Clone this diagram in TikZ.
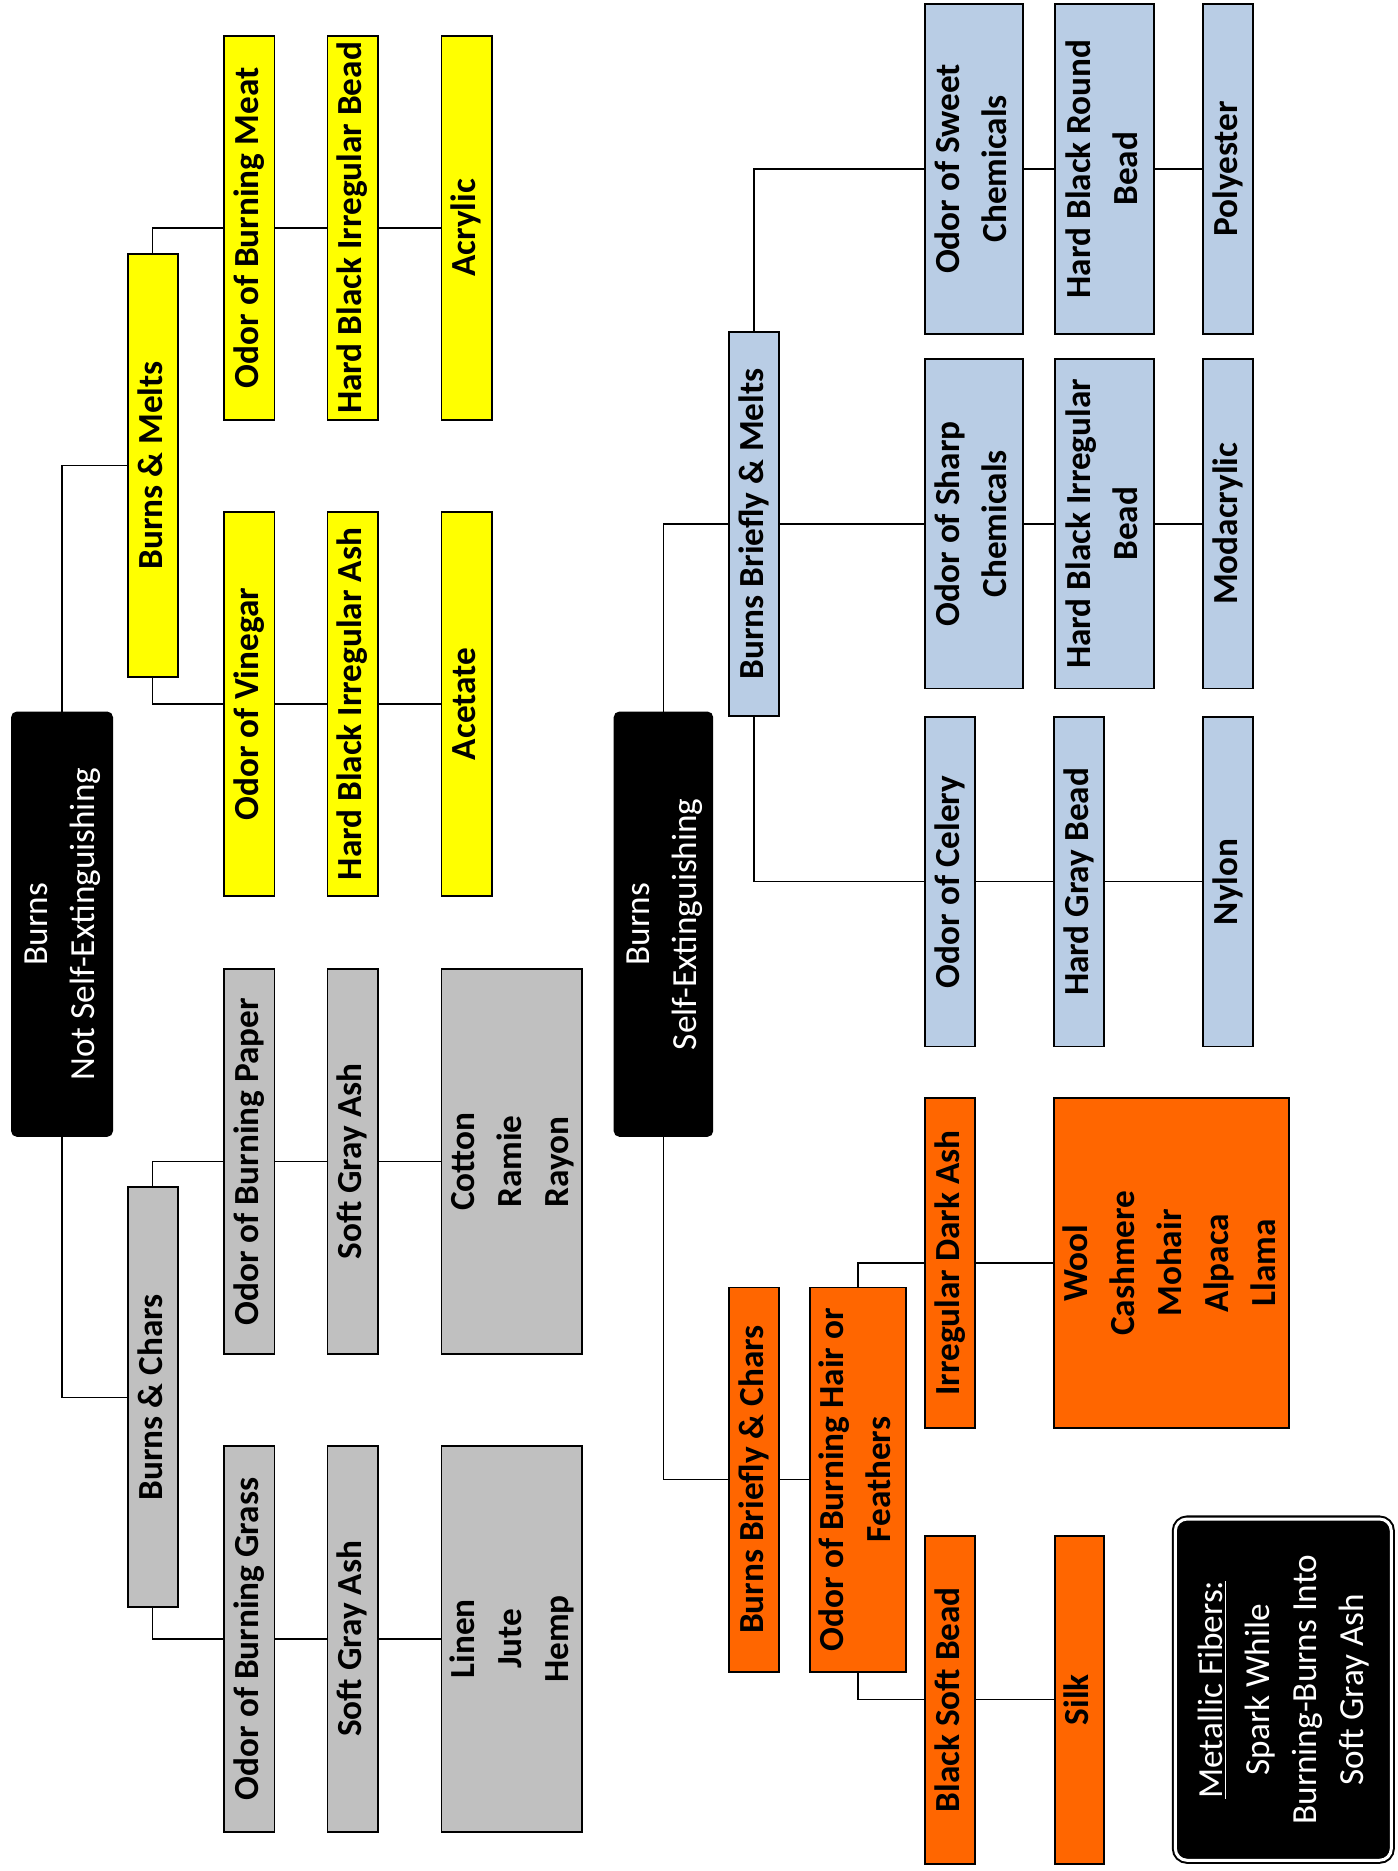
\documentclass[tikz,border=0pt]{standalone}
\usepackage{fontspec}
\setmainfont{Carlito}
\usepackage{graphicx}
\usepackage{tikz}

\definecolor{melt}{HTML}{FFFF00}
\definecolor{char}{HTML}{C0C0C0}
\definecolor{bead}{HTML}{B9CDE5}
\definecolor{hair}{HTML}{FF6600}

\newcommand{\vt}[1]{\rotatebox{90}{\begin{tabular}{@{}c@{}}#1\end{tabular}}}
\newcommand{\fs}{\fontsize{21}{28}\selectfont}

\tikzset{
	fiber/.style={draw, line width=1.1pt, inner sep=0pt, font=\fs\bfseries},
	root/.style={draw, fill=black, text=white, rounded corners=3pt, line width=1pt, inner sep=0pt, font=\fs},
	sz/.style 2 args={minimum width=#1*0.025cm, minimum height=#2*0.025cm},
	link/.style={line width=0.8pt},
}

\begin{document}
\begin{tikzpicture}[x=0.025cm, y=-0.025cm]
	
	\useasboundingbox (0,0) rectangle (1171,1568);
	
	% not self-extinguishing
	\node[root, sz={84}{355}] (nse) at (52,774.5) {\vt{Burns\\Not Self-Extinguishing}};
	
	\node[fiber, fill=melt, sz={42}{354}] (bm) at (128,390) {\vt{Burns \& Melts}};
	\node[fiber, fill=char, sz={42}{352}] (bc) at (128,1171) {\vt{Burns \& Chars}};
	
	\node[fiber, fill=melt, sz={42}{322}] (meat) at (209,191) {\vt{Odor of Burning Meat}};
	\node[fiber, fill=melt, sz={42}{322}] (hbib) at (295.5,191) {\vt{Hard Black Irregular Bead}};
	\node[fiber, fill=melt, sz={42}{322}] (acry) at (391,191) {\vt{Acrylic}};
	
	\node[fiber, fill=melt, sz={42}{322}] (vine) at (209,590) {\vt{Odor of Vinegar}};
	\node[fiber, fill=melt, sz={42}{322}] (hbia) at (295.5,590) {\vt{Hard Black Irregular Ash}};
	\node[fiber, fill=melt, sz={42}{322}] (acet) at (391,590) {\vt{Acetate}};
	
	\node[fiber, fill=char, sz={42}{323}] (paper) at (209,973.5) {\vt{Odor of Burning Paper}};
	\node[fiber, fill=char, sz={42}{323}] (ashp) at (295.5,973.5) {\vt{Soft Gray Ash}};
	\node[fiber, fill=char, sz={118}{323}] (cott) at (429,973.5) {\vt{Cotton\\Ramie\\Rayon}};
	
	\node[fiber, fill=char, sz={42}{323}] (grass) at (209,1373.5) {\vt{Odor of Burning Grass}};
	\node[fiber, fill=char, sz={42}{323}] (ashg) at (295.5,1373.5) {\vt{Soft Gray Ash}};
	\node[fiber, fill=char, sz={118}{323}] (linen) at (429,1373.5) {\vt{Linen\\Jute\\Hemp}};
	
	\draw[link] (nse.north) |- (bm.west);
	\draw[link] (nse.south) |- (bc.west);
	\draw[link] (bm.north) |- (meat.west);
	\draw[link] (meat.east) -- (hbib.west) (hbib.east) -- (acry.west);
	\draw[link] (bm.south) |- (vine.west);
	\draw[link] (vine.east) -- (hbia.west) (hbia.east) -- (acet.west);
	\draw[link] (bc.north) |- (paper.west);
	\draw[link] (paper.east) -- (ashp.west) (ashp.east) -- (cott.west);
	\draw[link] (bc.south) |- (grass.west);
	\draw[link] (grass.east) -- (ashg.west) (ashg.east) -- (linen.west);
	
	% self-extinguishing
	\node[root, sz={82}{355}] (se) at (556,774.5) {\vt{Burns\\Self-Extinguishing}};
	
	\node[fiber, fill=bead, sz={42}{322}] (bbm) at (632,439) {\vt{Burns Briefly \& Melts}};
	\node[fiber, fill=hair, sz={42}{322}] (bbc) at (632,1240) {\vt{Burns Briefly \& Chars}};
	
	\node[fiber, fill=bead, sz={82}{277}] (sweet) at (816,141.5) {\vt{Odor of Sweet\\Chemicals}};
	\node[fiber, fill=bead, sz={83}{277}] (hbrb) at (925.5,141.5) {\vt{Hard Black Round\\Bead}};
	\node[fiber, fill=bead, sz={42}{277}] (poly) at (1029,141.5) {\vt{Polyester}};
	
	\node[fiber, fill=bead, sz={82}{276}] (sharp) at (816,439) {\vt{Odor of Sharp\\Chemicals}};
	\node[fiber, fill=bead, sz={83}{276}] (hbib2) at (925.5,439) {\vt{Hard Black Irregular\\Bead}};
	\node[fiber, fill=bead, sz={42}{276}] (moda) at (1029,439) {\vt{Modacrylic}};
	
	\node[fiber, fill=bead, sz={42}{276}] (celery) at (796,739) {\vt{Odor of Celery}};
	\node[fiber, fill=bead, sz={42}{276}] (hgb) at (904.5,739) {\vt{Hard Gray Bead}};
	\node[fiber, fill=bead, sz={42}{276}] (nylon) at (1029,739) {\vt{Nylon}};
	
	\node[fiber, fill=hair, sz={80}{322}] (feat) at (719,1240) {\vt{Odor of Burning Hair or\\Feathers}};
	\node[fiber, fill=hair, sz={42}{277}] (ida) at (796,1058.5) {\vt{Irregular Dark Ash}};
	\node[fiber, fill=hair, sz={196}{277}] (wool) at (982,1058.5) {\vt{Wool\\Cashmere\\Mohair\\Alpaca\\Llama}};
	\node[fiber, fill=hair, sz={42}{275}] (bsb) at (796,1424.5) {\vt{Black Soft Bead}};
	\node[fiber, fill=hair, sz={41}{275}] (silk) at (904.5,1424.5) {\vt{Silk}};
	
	\draw[link] (se.north) |- (bbm.west);
	\draw[link] (se.south) |- (bbc.west);
	\draw[link] (bbm.north) |- (sweet.west);
	\draw[link] (sweet.east) -- (hbrb.west) (hbrb.east) -- (poly.west);
	\draw[link] (bbm.east) -- (sharp.west);
	\draw[link] (sharp.east) -- (hbib2.west) (hbib2.east) -- (moda.west);
	\draw[link] (bbm.south) |- (celery.west);
	\draw[link] (celery.east) -- (hgb.west) (hgb.east) -- (nylon.west);
	\draw[link] (bbc.east) -- (feat.west);
	\draw[link] (feat.north) |- (ida.west);
	\draw[link] (ida.east) -- (wool.west);
	\draw[link] (feat.south) |- (bsb.west);
	\draw[link] (bsb.east) -- (silk.west);
	
	\node[
	draw=black,
	fill=black,
	text=white,
	line width=1.2pt,
	double=white,
	double distance=1.8pt,
	rounded corners=7pt,
	inner sep=0pt,
	font=\fs,
	sz={181}{286}
	] (metal) at (1075.5,1416)
	{\vt{\underline{Metallic Fibers:}\\Spark While\\Burning-Burns Into\\Soft Gray Ash}};
	
\end{tikzpicture}
\end{document}
